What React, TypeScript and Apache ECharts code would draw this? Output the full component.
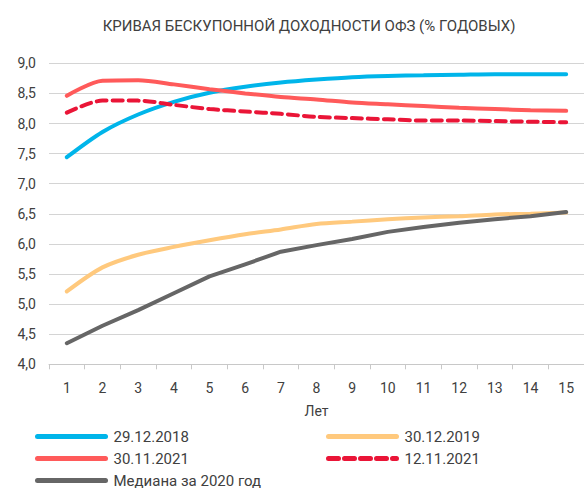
import React, { useEffect, useRef } from "react";
import * as echarts from "echarts";

const years = ["1", "2", "3", "4", "5", "6", "7", "8", "9", "10", "11", "12", "13", "14", "15"];
const s2018 = [7.44, 7.86, 8.15, 8.36, 8.51, 8.61, 8.68, 8.73, 8.77, 8.79, 8.8, 8.81, 8.82, 8.82, 8.82];
const s2019 = [5.21, 5.61, 5.82, 5.95, 6.06, 6.16, 6.24, 6.33, 6.37, 6.41, 6.44, 6.46, 6.49, 6.5, 6.52];
const s301121 = [8.46, 8.71, 8.72, 8.65, 8.57, 8.5, 8.44, 8.4, 8.35, 8.32, 8.29, 8.26, 8.24, 8.22, 8.21];
const s121121 = [8.18, 8.38, 8.38, 8.31, 8.24, 8.2, 8.16, 8.11, 8.09, 8.07, 8.05, 8.05, 8.04, 8.03, 8.02];
const median2020 = [4.35, 4.64, 4.9, 5.18, 5.46, 5.66, 5.87, 5.98, 6.08, 6.2, 6.28, 6.35, 6.41, 6.46, 6.53];

const names = ["29.12.2018", "30.12.2019", "30.11.2021", "12.11.2021", "Медиана за 2020 год"];
const FONT = "Roboto, 'Noto Sans', sans-serif";
const TXT = "#404040";

export default function App() {
  const ref = useRef<HTMLDivElement>(null);
  useEffect(() => {
    if (!ref.current) return;
    const chart = echarts.init(ref.current, undefined, { renderer: "svg" });
    const mkLegend = (name: string, left: number, top: number) => ({
      data: [name],
      left,
      top,
      padding: 0,
      itemWidth: 68,
      itemHeight: 14,
      itemStyle: { opacity: 0 },
      lineStyle: { width: 5, cap: "round" },
      textStyle: { fontFamily: FONT, fontSize: 15, color: TXT, padding: [0, 0, 0, 3] },
      selectedMode: false,
    });
    chart.setOption({
      animation: false,
      title: {
        text: "КРИВАЯ БЕСКУПОННОЙ ДОХОДНОСТИ ОФЗ (% ГОДОВЫХ)",
        left: 304,
        textAlign: "center",
        top: 13,
        textStyle: { fontFamily: FONT, fontSize: 15, fontWeight: "normal", color: TXT },
      },
      grid: { left: 49, right: 0, top: 63.3, bottom: 123.7 },
      legend: [
        mkLegend(names[0], 35, 429),
        mkLegend(names[1], 326, 429),
        mkLegend(names[2], 35, 451),
        mkLegend(names[3], 326, 451),
        mkLegend(names[4], 35, 473),
      ],
      xAxis: {
        type: "category",
        data: years,
        boundaryGap: true,
        name: "Лет",
        nameLocation: "middle",
        nameGap: 40,
        nameTextStyle: { fontFamily: FONT, fontSize: 14, color: TXT },
        axisLine: { lineStyle: { color: "#c8c8c8", width: 1 } },
        axisTick: { show: true, length: 5, lineStyle: { color: "#c8c8c8" } },
        axisLabel: { fontFamily: FONT, fontSize: 14, color: TXT, margin: 17 },
      },
      yAxis: {
        type: "value",
        min: 4,
        max: 9,
        interval: 0.5,
        axisLine: { show: false },
        axisTick: { show: false },
        splitLine: { lineStyle: { color: "#d4d4d4", width: 1 } },
        axisLabel: {
          fontFamily: FONT,
          fontSize: 14,
          color: TXT,
          margin: 13,
          formatter: (v: number) => v.toFixed(1).replace(".", ","),
        },
      },
      series: [
        { name: names[0], type: "line", data: s2018, smooth: 0.3, symbol: "none", lineStyle: { color: "#00b5ea", width: 4, cap: "round" }, itemStyle: { color: "#00b5ea" } },
        { name: names[1], type: "line", data: s2019, smooth: 0.3, symbol: "none", lineStyle: { color: "#ffc97d", width: 4, cap: "round" }, itemStyle: { color: "#ffc97d" } },
        { name: names[2], type: "line", data: s301121, smooth: 0.3, symbol: "none", lineStyle: { color: "#ff5a5a", width: 4, cap: "round" }, itemStyle: { color: "#ff5a5a" } },
        { name: names[3], type: "line", data: s121121, smooth: 0.3, symbol: "none", lineStyle: { color: "#ea1537", width: 4, type: [10, 6], cap: "round" }, itemStyle: { color: "#ea1537" } },
        { name: names[4], type: "line", data: median2020, smooth: false, symbol: "none", lineStyle: { color: "#666666", width: 4, cap: "round", join: "round" }, itemStyle: { color: "#666666" } },
      ],
    });
    return () => chart.dispose();
  }, []);
  return (
    <div
      ref={ref}
      style={{ position: "fixed", left: 0, top: 0, width: 584, height: 488, background: "#fff" }}
    />
  );
}
